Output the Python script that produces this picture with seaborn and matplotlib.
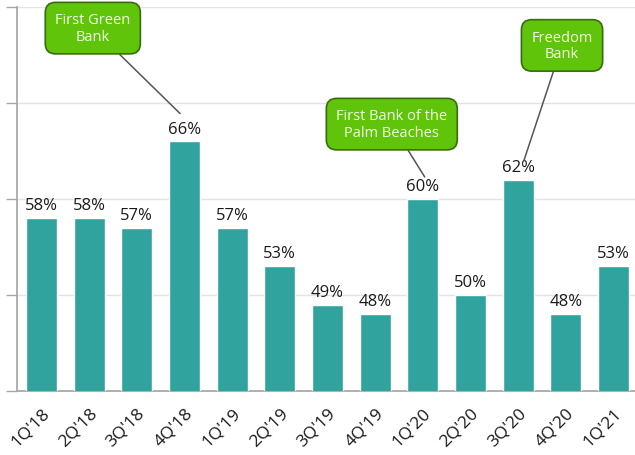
import numpy as np
import pandas as pd
import matplotlib
matplotlib.use('Agg')
import matplotlib.pyplot as plt
import seaborn as sns

## ============================== ##

quarters = ["1Q'18", "2Q'18", "3Q'18", "4Q'18", "1Q'19", "2Q'19", "3Q'19",
	"4Q'19", "1Q'20", "2Q'20", "3Q'20", "4Q'20", "1Q'21"]
values = [58, 58, 57, 66, 57, 53, 49, 48, 60, 50, 62, 48, 53]

callout_labels = ['First Green\nBank', 'First Bank of the\nPalm Beaches', 'Freedom\nBank']
callout_quarters = ["4Q'18", "1Q'20", "3Q'20"]

## ============================== ##

sns.set_theme(style='white')
plt.rcParams['font.family'] = ['Open Sans', 'DejaVu Sans']

df = pd.DataFrame({'quarter': quarters, 'value': values})

BAR_COLOR = '#31A39E'
BOX_COLOR = '#5FC40A'

fig = plt.figure(figsize=(6.35, 4.56), dpi=100)
ax = fig.add_axes([17/635, 64/456, 618/635, 384/456])

sns.barplot(ax=ax, data=df, x='quarter', y='value', color=BAR_COLOR,
	saturation=1, width=0.65, zorder=3)

ax.set_ylim(40, 80)
ax.set_xlim(-0.51, 12.45)
ax.set_yticks([40, 50, 60, 70, 80])
ax.set_yticklabels([])
ax.yaxis.grid(True, color='#E3E3E3', lw=1, zorder=0)
ax.tick_params(axis='y', left=True, length=8, color='#A6A6A6', width=1)
ax.tick_params(axis='x', bottom=False, pad=4)
ax.set_xlabel('')
ax.set_ylabel('')

for sp in ['top', 'right']:
	ax.spines[sp].set_visible(False)
ax.spines['left'].set_color('#A6A6A6')
ax.spines['bottom'].set_color('#A6A6A6')

plt.setp(ax.get_xticklabels(), rotation=45, ha='right', rotation_mode='anchor',
	fontsize=12.5, color='#1A1A1A')

for i, v in enumerate(values):
	ax.text(i, v + 0.5, '{0:d}%'.format(v), ha='center', va='bottom',
		fontsize=12, color='#1A1A1A', zorder=4)

# callout boxes: (line end dx, dy, box dx, dy) in data units relative to the bar
offsets = [(-0.09, 2.9, -1.92, 11.8), (0.04, 2.3, -0.65, 7.8), (0.12, 2.0, 0.92, 14.0)]
for lab, q, (ex, ey, tx, ty) in zip(callout_labels, callout_quarters, offsets):
	i = quarters.index(q)
	v = values[i]
	ax.annotate(lab, xy=(i + ex, v + ey), xytext=(i + tx, v + ty), textcoords='data',
		ha='center', va='center', fontsize=10.5, color='#F2FFE6',
		linespacing=1.15,
		bbox=dict(boxstyle='round,pad=0.68,rounding_size=0.7', fc=BOX_COLOR,
			ec='#3A6B12', lw=1.2),
		arrowprops=dict(arrowstyle='-', color='#555555', lw=1.1,
			shrinkA=0, shrinkB=0),
		zorder=5, annotation_clip=False)

fig.savefig('out.png', dpi=100)
